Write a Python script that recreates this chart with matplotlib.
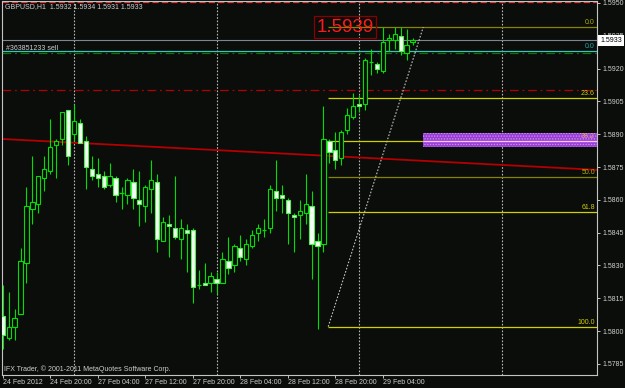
import matplotlib
matplotlib.use("Agg")
import matplotlib.pyplot as plt
import numpy as np
from matplotlib.patches import Rectangle

plt.rcParams["font.family"] = ["Liberation Sans", "DejaVu Sans"]

BG = "#0b0d0b"
AXIS = "#c4c4c4"
TEXT = "#cfcfcf"
CANDLE = "#00e000"
YELLOW, OLIVE = "#d0d000", "#858500"
SMALL = 5

# GBPUSD H1, 24 Feb 2012 12:00 .. 29 Feb 2012 09:00 (bar index = hour on the chart)
opens = [1.5807, 1.5797, 1.5802, 1.5808, 1.5831, 1.5856, 1.5858, 1.5870, 1.5873, 1.5885,
         1.5888, 1.5901, 1.5890, 1.5895, 1.5887, 1.5874, 1.5872, 1.5871, 1.5867, 1.5870,
         1.5863, 1.5862, 1.5868, 1.5860, 1.5857, 1.5865, 1.5868, 1.5841, 1.5849, 1.5847,
         1.5842, 1.5846, 1.5846, 1.5821, 1.5822, 1.5822, 1.5824, 1.5822, 1.5832, 1.5830,
         1.5838, 1.5833, 1.5839, 1.5845, 1.5846, 1.5847, 1.5864, 1.5862, 1.5860, 1.5853,
         1.5853, 1.5854, 1.5857, 1.5841, 1.5840, 1.5887, 1.5883, 1.5879, 1.5892, 1.5898,
         1.5904, 1.5904, 1.5923, 1.5922, 1.5919, 1.5933, 1.5933, 1.5935, 1.5927, 1.5932]
highs = [1.5821, 1.5818, 1.5810, 1.5838, 1.5866, 1.5880, 1.5871, 1.5880, 1.5897, 1.5888,
         1.5900, 1.5901, 1.5904, 1.5897, 1.5889, 1.5880, 1.5879, 1.5873, 1.5877, 1.5871,
         1.5866, 1.5870, 1.5874, 1.5873, 1.5867, 1.5878, 1.5872, 1.5852, 1.5853, 1.5871,
         1.5851, 1.5849, 1.5847, 1.5828, 1.5831, 1.5827, 1.5827, 1.5836, 1.5843, 1.5840,
         1.5844, 1.5842, 1.5846, 1.5849, 1.5851, 1.5867, 1.5878, 1.5867, 1.5861, 1.5854,
         1.5860, 1.5872, 1.5864, 1.5845, 1.5903, 1.5888, 1.5891, 1.5892, 1.5902, 1.5909,
         1.5908, 1.5925, 1.5929, 1.5923, 1.5939, 1.5936, 1.5939, 1.5939, 1.5938, 1.5934]
lows = [1.5792, 1.5796, 1.5796, 1.5808, 1.5822, 1.5849, 1.5854, 1.5864, 1.5872, 1.5870,
        1.5885, 1.5876, 1.5887, 1.5886, 1.5865, 1.5869, 1.5866, 1.5865, 1.5866, 1.5859,
        1.5856, 1.5858, 1.5856, 1.5848, 1.5850, 1.5854, 1.5836, 1.5841, 1.5834, 1.5842,
        1.5833, 1.5827, 1.5813, 1.5819, 1.5821, 1.5818, 1.5817, 1.5822, 1.5826, 1.5827,
        1.5832, 1.5830, 1.5838, 1.5841, 1.5843, 1.5845, 1.5855, 1.5854, 1.5840, 1.5836,
        1.5842, 1.5849, 1.5824, 1.5801, 1.5836, 1.5877, 1.5874, 1.5876, 1.5890, 1.5897,
        1.5900, 1.5901, 1.5917, 1.5918, 1.5918, 1.5928, 1.5929, 1.5926, 1.5924, 1.5931]
closes = [1.5798, 1.5802, 1.5806, 1.5832, 1.5857, 1.5859, 1.5871, 1.5874, 1.5884, 1.5887,
          1.5900, 1.5880, 1.5896, 1.5886, 1.5875, 1.5871, 1.5870, 1.5866, 1.5871, 1.5862,
          1.5863, 1.5869, 1.5861, 1.5858, 1.5866, 1.5869, 1.5842, 1.5850, 1.5848, 1.5843,
          1.5847, 1.5845, 1.5820, 1.5821, 1.5821, 1.5825, 1.5822, 1.5833, 1.5829, 1.5839,
          1.5834, 1.5840, 1.5844, 1.5847, 1.5846, 1.5865, 1.5861, 1.5861, 1.5854, 1.5852,
          1.5855, 1.5858, 1.5840, 1.5839, 1.5888, 1.5882, 1.5878, 1.5891, 1.5899, 1.5903,
          1.5903, 1.5924, 1.5923, 1.5920, 1.5932, 1.5934, 1.5936, 1.5928, 1.5931, 1.5933]

time_ticks = [0, 8, 16, 24, 32, 40, 48, 56, 64]
time_labels = ["24 Feb 2012", "24 Feb 20:00", "27 Feb 04:00", "27 Feb 12:00", "27 Feb 20:00",
               "28 Feb 04:00", "28 Feb 12:00", "28 Feb 20:00", "29 Feb 04:00"]
day_separators = [12, 36, 60, 84]
price_ticks = [1.5785, 1.5800, 1.5815, 1.5830, 1.5845, 1.5860, 1.5875,
               1.5890, 1.5905, 1.5920, 1.5935, 1.5950]

# objects on the chart
fib_high, fib_low = 1.5939, 1.5802
fib_bars = [54.8, 70.8]
fib_ratios = [0.0, 23.6, 38.2, 50.0, 61.8, 100.0]
fib_colors = [OLIVE, YELLOW, YELLOW, OLIVE, YELLOW, YELLOW]
bid = 1.5933
teal_level = 1.5928
order_level = 1.5927
stop_level = 1.5910
top_level = 1.59505
trend_bars = [0.0, 100.0]
trend_prices = [1.58878, 1.58737]
zone_bars = [70.8, 100.1]
zone_prices = [1.58842, 1.58906]

fig = plt.figure(figsize=(6.25, 3.88), dpi=100, facecolor=BG)
ax = fig.add_axes([2 / 625, 13 / 388, 595 / 625, 374 / 388])
ax.set_facecolor(BG)
ax.set_xlim(-0.12, 100.05)
ax.set_ylim(1.57799, 1.59509)

for s in ax.spines.values():
    s.set_color(AXIS)
    s.set_linewidth(0.8)

# day separators
for b in day_separators:
    ax.axvline(b, color="#b8b8b8", lw=0.8, ls=(0, (1.5, 1.5)), zorder=1)

# horizontal lines
ax.axhline(top_level, color="#e03434", lw=0.9, ls=(0, (5, 2.5)), zorder=2)
ax.axhline(bid, color="#7a8694", lw=0.8, zorder=2)
ax.axhline(teal_level, color="#3cc4bc", lw=0.9, zorder=2)
ax.axhline(order_level, color="#007a00", lw=0.9, ls=(0, (7, 3, 1.5, 3)), zorder=2)
ax.axhline(stop_level, color="#b00000", lw=0.9, ls=(0, (7, 3, 1.5, 3)), zorder=2)
ax.plot(trend_bars + [100.05], trend_prices + [trend_prices[1]], color="#b40000", lw=1.3, zorder=2)

# fibonacci retracement
span = fib_high - fib_low
for r, c in zip(fib_ratios, fib_colors):
    lvl = fib_high - r / 100 * span
    ax.hlines(lvl, fib_bars[0], 100.05, color=c, lw=0.9, zorder=2)
    lc = "#e8a070" if r == 38.2 else ("#b0b000" if c == OLIVE else c)
    ax.text(99.7, lvl + 0.00005, f"{r:.1f}", color=lc, fontsize=SMALL,
            ha="right", va="bottom", zorder=6)
ax.plot(fib_bars, [fib_low, fib_high], color="#c0c0c0", lw=0.8, ls=(0, (1.5, 1.5)), zorder=2)
ax.text(99.7, teal_level + 0.00005, "0.0", color="#22a8a8", fontsize=SMALL,
        ha="right", va="bottom", zorder=6)

# zone
plt.rcParams["hatch.linewidth"] = 0.6
ax.add_patch(Rectangle((zone_bars[0], zone_prices[0]), zone_bars[1] - zone_bars[0],
                       zone_prices[1] - zone_prices[0], facecolor="#9a3ed6",
                       edgecolor="#c994f2", hatch="......", lw=0, zorder=3))
lvl382 = fib_high - 0.382 * span
ax.hlines(lvl382, zone_bars[0], 100.05, color="#f2c8f0", lw=0.9, zorder=4)

# candles
o, h, l, c = map(np.asarray, (opens, highs, lows, closes))
x = np.arange(len(o))
ax.vlines(x, l, h, color=CANDLE, lw=0.8, zorder=4)
bear = c < o
bull = c > o
doji = c == o
ax.bar(x[bull], (c - o)[bull], bottom=o[bull], width=0.72, facecolor=BG,
       edgecolor=CANDLE, lw=0.8, zorder=5)
ax.bar(x[bear], (o - c)[bear], bottom=c[bear], width=0.72, facecolor="#f4fff4",
       edgecolor="#50f050", lw=0.8, zorder=5)
ax.hlines(o[doji], x[doji] - 0.36, x[doji] + 0.36, color=CANDLE, lw=0.9, zorder=5)

# price label of the fib high
ax.text(57.6, fib_high, f"{fib_high:.4f}", color="#ff1a1a", fontsize=13.5,
        ha="center", va="center", zorder=7,
        bbox=dict(boxstyle="square,pad=0.12", facecolor="none", edgecolor="#8a0000", lw=0.9))

# axes ticks
ax.yaxis.tick_right()
ax.set_yticks(price_ticks)
ax.set_yticklabels([f"{p:.4f}" for p in price_ticks])
ax.set_xticks(time_ticks)
ax.set_xticklabels(time_labels)
for lab in ax.get_xticklabels():
    lab.set_ha("left")
ax.tick_params(axis="y", direction="out", length=2.2, width=0.7, colors=AXIS,
               labelsize=SMALL, pad=1.5, labelcolor=TEXT)
ax.tick_params(axis="x", direction="out", length=2.2, width=0.7, colors=AXIS,
               labelsize=SMALL, pad=1, labelcolor=TEXT)

# bid label
ax.text(100.55, bid, f"{bid:.4f}", color="black", fontsize=SMALL, ha="left", va="center",
        clip_on=False, zorder=10,
        bbox=dict(boxstyle="square,pad=0.3", facecolor="white", edgecolor="white", lw=0))

# texts
fig.text(5 / 625, 1 - 7 / 388,
         f"GBPUSD,H1  {o[-1]:.4f} {h[-1]:.4f} {l[-1]:.4f} {c[-1]:.4f}",
         color=TEXT, fontsize=SMALL, va="center")
ax.text(0.6, order_level + 0.00004, "#363851233 sell", color=TEXT, fontsize=SMALL,
        va="bottom", zorder=6)
fig.text(4 / 625, 1 - 369 / 388, "IFX Trader, \u00a9 2001-2011 MetaQuotes Software Corp.",
         color=TEXT, fontsize=SMALL, va="center")

fig.savefig("out.png", dpi=100, facecolor=BG)
